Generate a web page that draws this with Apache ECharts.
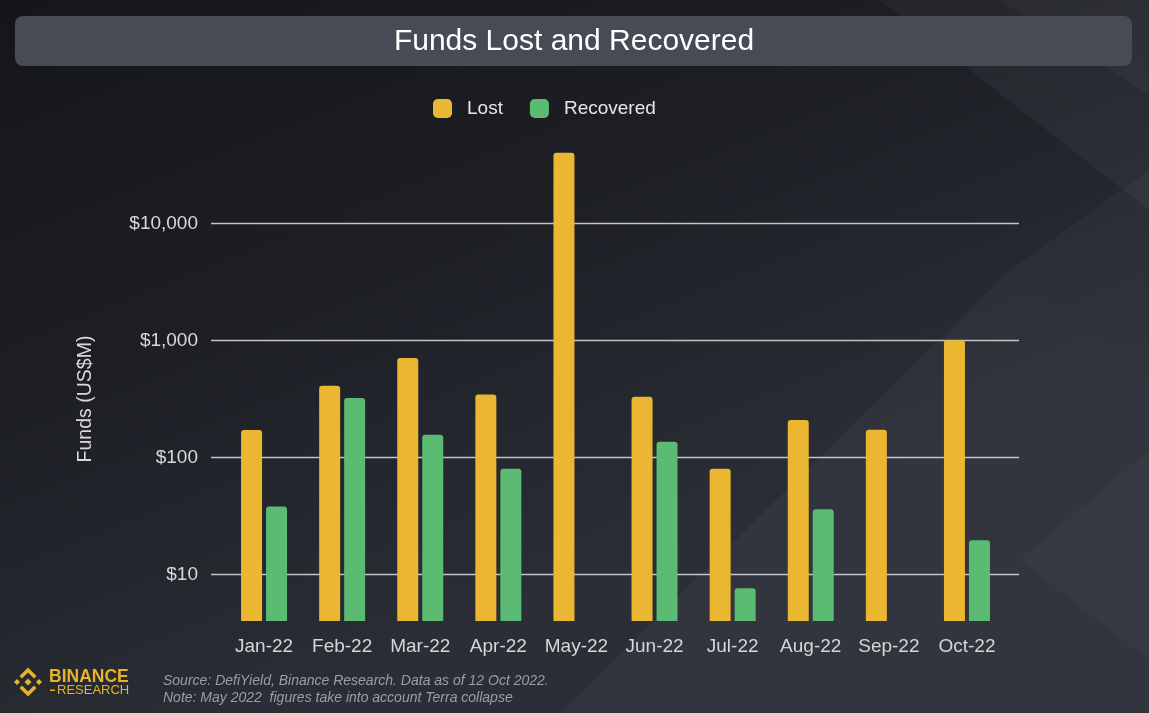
<!DOCTYPE html>
<html>
<head>
<meta charset="utf-8">
<script src="https://cdn.jsdelivr.net/npm/echarts@6/dist/echarts.min.js"></script>
<style>
html,body{margin:0;padding:0;background:#1d1f25;}
#chart{width:1149px;height:713px;}
</style>
</head>
<body>
<div id="chart"></div>
<script>
// ---- data (US$M) ----
const months = ['Jan-22','Feb-22','Mar-22','Apr-22','May-22','Jun-22','Jul-22','Aug-22','Sep-22','Oct-22'];
const lost = [171, 409, 705, 345, 40000, 329, 80, 209, 172, 1000];
const recovered = [38, 321, 156, 80, null, 136, 7.6, 36, null, 19.6];
const yTicks = [10, 100, 1000, 10000];

const FONT = 'Liberation Sans, Arial, sans-serif';
const chart = echarts.init(document.getElementById('chart'));

const fmt = v => '$' + Math.round(v).toLocaleString('en-US');

const option = {
  animation: false,
  backgroundColor: {
    type: 'linear', x: 0, y: 0, x2: 0.25, y2: 1,
    colorStops: [
      {offset: 0, color: '#15161a'},
      {offset: 0.5, color: '#1d1f25'},
      {offset: 1, color: '#2b2e36'}
    ]
  },
  graphic: [
    // background lattice (decorative)
    {type: 'polygon', z: -10, silent: true, shape: {points: [[560,713],[1010,270],[1149,370],[1149,713]]}, style: {fill: 'rgba(255,255,255,0.035)'}},
    {type: 'polygon', z: -10, silent: true, shape: {points: [[880,0],[1149,0],[1149,210]]}, style: {fill: 'rgba(255,255,255,0.04)'}},
    {type: 'polygon', z: -10, silent: true, shape: {points: [[1010,270],[1149,170],[1149,370]]}, style: {fill: 'rgba(255,255,255,0.03)'}},
    {type: 'polygon', z: -10, silent: true, shape: {points: [[1000,0],[1149,0],[1149,95]]}, style: {fill: 'rgba(255,255,255,0.03)'}},
    {type: 'polygon', z: -10, silent: true, shape: {points: [[1149,450],[1020,560],[1149,660]]}, style: {fill: 'rgba(255,255,255,0.025)'}},
    // title bar
    {type: 'rect', z: 0, silent: true, shape: {x: 15, y: 16, width: 1117, height: 50, r: 8}, style: {fill: '#464b55'}},
    {type: 'text', z: 1, silent: true, x: 574, y: 42, style: {text: 'Funds Lost and Recovered', font: '30px ' + FONT, fill: '#ffffff', align: 'center', verticalAlign: 'middle'}},
    // y-axis name
    {type: 'text', z: 1, silent: true, x: 86, y: 399, rotation: Math.PI / 2, style: {text: 'Funds (US$M)', font: '19.5px ' + FONT, fill: '#d9d9d9', align: 'center', verticalAlign: 'middle'}},
    // Binance Research logo
    {type: 'polygon', z: 1, silent: true, shape: {points: [[19.5,676],[28,667.5],[36.5,676],[34,678.5],[28,672.5],[22,678.5]]}, style: {fill: '#e8b325'}},
    {type: 'polygon', z: 1, silent: true, shape: {points: [[19.5,688],[28,696.5],[36.5,688],[34,685.5],[28,691.5],[22,685.5]]}, style: {fill: '#e8b325'}},
    {type: 'polygon', z: 1, silent: true, shape: {points: [[28,678.5],[31.5,682],[28,685.5],[24.5,682]]}, style: {fill: '#e8b325'}},
    {type: 'polygon', z: 1, silent: true, shape: {points: [[17,679],[20,682],[17,685],[14,682]]}, style: {fill: '#e8b325'}},
    {type: 'polygon', z: 1, silent: true, shape: {points: [[39,679],[42,682],[39,685],[36,682]]}, style: {fill: '#e8b325'}},
    {type: 'text', z: 1, silent: true, x: 49, y: 677, style: {text: 'BINANCE', font: 'bold 17.5px ' + FONT, fill: '#e8b325', align: 'left', verticalAlign: 'middle'}},
    {type: 'rect', z: 1, silent: true, shape: {x: 50, y: 689.5, width: 5, height: 1.5}, style: {fill: '#e8b325'}},
    {type: 'text', z: 1, silent: true, x: 57, y: 690.5, style: {text: 'RESEARCH', font: '13px ' + FONT, fill: '#e8b325', align: 'left', verticalAlign: 'middle'}},
    // source notes
    {type: 'text', z: 1, silent: true, x: 163, y: 681, style: {text: 'Source: DefiYield, Binance Research. Data as of 12 Oct 2022.', font: 'italic 14px ' + FONT, fill: '#9b9ea6', align: 'left', verticalAlign: 'middle'}},
    {type: 'text', z: 1, silent: true, x: 163, y: 698, style: {text: 'Note: May 2022  figures take into account Terra collapse', font: 'italic 14px ' + FONT, fill: '#9b9ea6', align: 'left', verticalAlign: 'middle'}}
  ],
  legend: {
    left: 428, top: 94,
    itemWidth: 19, itemHeight: 19, itemGap: 27,
    icon: 'roundRect',
    textStyle: {color: '#e6e6e6', fontSize: 19, fontFamily: FONT, padding: [0, 0, 0, 10]},
    data: ['Lost', 'Recovered']
  },
  grid: [
    {left: 211, right: 130, top: 141.5, bottom: 92},
    {left: 225, right: 143, top: 141.5, bottom: 92}
  ],
  xAxis: [
    {type: 'category', gridIndex: 0, data: months, show: false},
    {type: 'category', gridIndex: 1, data: months,
     axisLine: {show: false}, axisTick: {show: false},
     axisLabel: {color: '#d6d6d6', fontSize: 19, fontFamily: FONT, margin: 16, interval: 0}}
  ],
  yAxis: [
    {type: 'log', gridIndex: 0, logBase: 10, min: 4, max: 50000,
     axisLine: {show: false}, axisTick: {show: false},
     axisLabel: {color: '#d9d9d9', fontSize: 19, fontFamily: FONT, margin: 13,
       showMinLabel: false, showMaxLabel: false,
       formatter: v => yTicks.includes(Math.round(v)) ? fmt(v) : ''},
     splitLine: {show: true, showMinLine: false, showMaxLine: false, lineStyle: {color: '#c4c4c4', width: 1.3}}},
    {type: 'log', gridIndex: 1, logBase: 10, min: 4, max: 50000, startValue: 4, show: false,
     splitLine: {show: false}}
  ],
  series: [
    {name: 'Lost', type: 'bar', xAxisIndex: 1, yAxisIndex: 1, data: lost,
     barWidth: 21, barGap: '19%', clip: true,
     itemStyle: {color: '#ebb732', borderRadius: [3, 3, 0, 0]}},
    {name: 'Recovered', type: 'bar', xAxisIndex: 1, yAxisIndex: 1, data: recovered,
     barWidth: 21, barGap: '19%', clip: true,
     itemStyle: {color: '#5bbb73', borderRadius: [3, 3, 0, 0]}}
  ]
};
chart.setOption(option);
</script>
</body>
</html>
